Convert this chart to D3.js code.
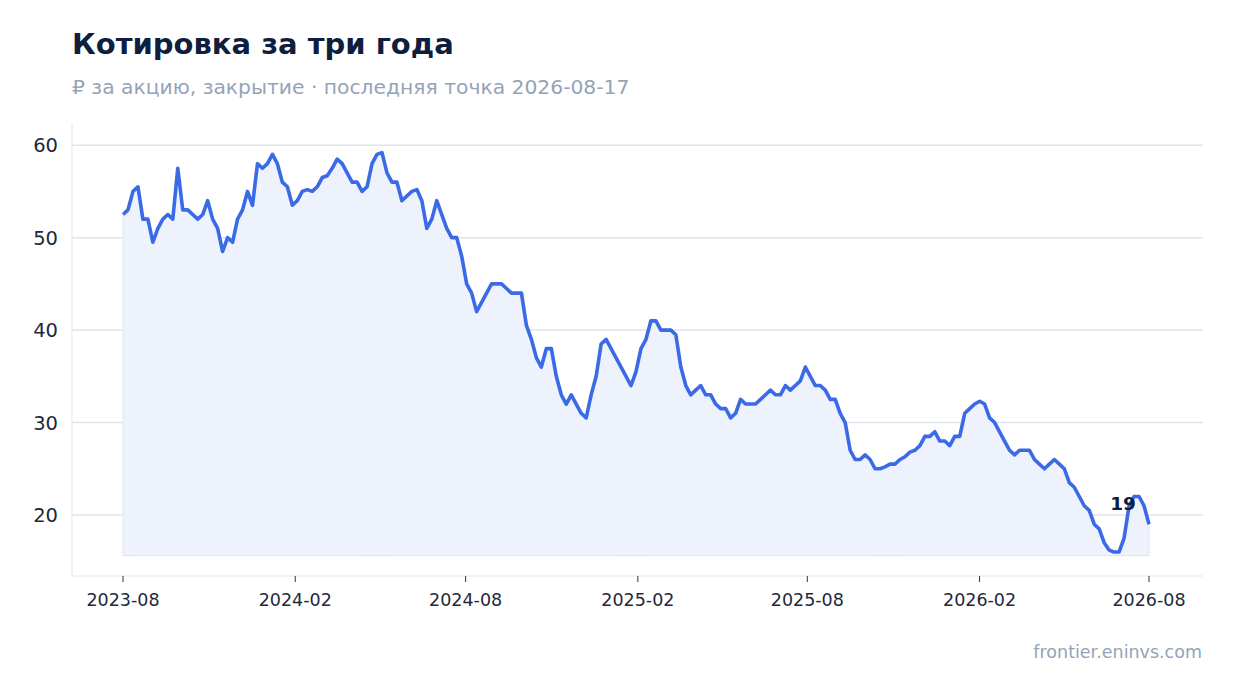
<!DOCTYPE html>
<html><head><meta charset="utf-8">
<script src="https://cdn.jsdelivr.net/npm/d3@7"></script>
<style>body{margin:0;background:#fff;font-family:"DejaVu Sans",sans-serif}</style>
</head><body><svg id="c" width="1234" height="693"></svg>
<script>
const startDate = "2023-08-17", endDate = "2026-08-17";
const prices = [52.5,53,55,55.5,52,52,49.5,51,52,52.5,52,57.5,53,53,52.5,52,52.5,54,52,51,48.5,50,49.5,52,53,55,53.5,58,57.5,58,59,58,56,55.5,53.5,54,55,55.2,55,55.5,56.5,56.7,57.5,58.5,58,57,56,56,55,55.5,58,59,59.2,57,56,56,54,54.5,55,55.2,54,51,52,54,52.5,51,50,50,48,45,44,42,43,44,45,45,45,44.5,44,44,44,40.5,39,37,36,38,38,35,33,32,33,32,31,30.5,33,35,38.5,39,38,37,36,35,34,35.5,38,39,41,41,40,40,40,39.5,36,34,33,33.5,34,33,33,32,31.5,31.5,30.5,31,32.5,32,32,32,32.5,33,33.5,33,33,34,33.5,34,34.5,36,35,34,34,33.5,32.5,32.5,31,30,27,26,26,26.5,26,25,25,25.2,25.5,25.5,26,26.3,26.8,27,27.5,28.5,28.5,29,28,28,27.5,28.5,28.5,31,31.5,32,32.3,32,30.5,30,29,28,27,26.5,27,27,27,26,25.5,25,25.5,26,25.5,25,23.5,23,22,21,20.5,19,18.5,17,16.2,16,16,17.5,21,22,22,21,19];
const yTicks = [20,30,40,50,60];
const xTickLabels = ["2023-08","2024-02","2024-08","2025-02","2025-08","2026-02","2026-08"];

const parse = d3.timeParse("%Y-%m-%d");
const t0 = parse(startDate), t1 = parse(endDate);
const n = prices.length;
const data = prices.map((v,i)=>({d:new Date(+t0 + (t1-t0)*i/(n-1)), v}));
const svg = d3.select("#c");
const L=72,R=1203,T=123,B=576;
const x = d3.scaleTime().domain([t0,t1]).range([123,1149]);
const y = d3.scaleLinear().domain([13.4,62.4]).range([B,T]);
const xTicks = xTickLabels.map((s,i)=>d3.timeMonth.offset(t0,6*i));

svg.append("text").attr("x",72).attr("y",54).attr("font-size",29).attr("font-weight","bold").attr("fill","#0f1d3f").text("Котировка за три года");
svg.append("text").attr("x",72).attr("y",94).attr("font-size",20.3).attr("fill","#94a3b8").text("₽ за акцию, закрытие · последняя точка 2026-08-17");
svg.append("text").attr("x",1202).attr("y",658).attr("text-anchor","end").attr("font-size",17.5).attr("fill","#94a3b8").text("frontier.eninvs.com");

svg.append("g").selectAll("line").data(yTicks).join("line")
 .attr("x1",L).attr("x2",R).attr("y1",d=>y(d)).attr("y2",d=>y(d)).attr("stroke","#dfe3f0").attr("stroke-width",1.5);
svg.append("line").attr("x1",L).attr("x2",L).attr("y1",T).attr("y2",B).attr("stroke","#e2e6ef");
svg.append("line").attr("x1",L).attr("x2",R).attr("y1",B).attr("y2",B).attr("stroke","#e2e6ef");
svg.append("g").selectAll("text").data(yTicks).join("text")
 .attr("x",58).attr("y",d=>y(d)+7).attr("text-anchor","end").attr("font-size",19.5).attr("fill","#1e293b").text(d=>d);
const xg = svg.append("g").selectAll("g").data(xTicks).join("g").attr("transform",d=>`translate(${x(d)},${B})`);
xg.append("line").attr("y2",6).attr("stroke","#333");
xg.append("text").attr("y",30).attr("text-anchor","middle").attr("font-size",17.5).attr("fill","#1e293b").text((d,i)=>xTickLabels[i]);

const base = d3.min(prices)-0.4;
svg.append("path").datum(data).attr("fill","#eef2fd").attr("stroke","#dde4f7")
 .attr("d",d3.area().x(d=>x(d.d)).y0(y(base)).y1(d=>y(d.v)));
svg.append("path").datum(data).attr("fill","none").attr("stroke","#3b6ae6").attr("stroke-width",3.6).attr("stroke-linejoin","round")
 .attr("d",d3.line().x(d=>x(d.d)).y(d=>y(d.v)));
const last = data[n-1];
svg.append("text").attr("x",x(last.d)-13).attr("y",y(last.v)-14).attr("text-anchor","end").attr("font-size",18.5).attr("font-weight","bold").attr("fill","#0f1d3f").text(Math.round(last.v));
</script></body></html>
